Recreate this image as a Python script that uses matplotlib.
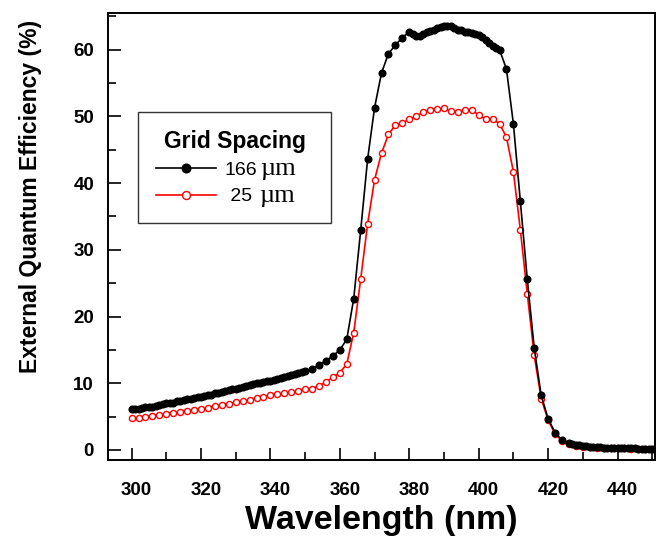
import matplotlib.pyplot as plt
import matplotlib.transforms as mtransforms
from matplotlib.ticker import MultipleLocator

plt.rcParams['font.family'] = ['Liberation Sans', 'DejaVu Sans']

# 166 um grid spacing (filled black)
wl_166 = list(range(300, 351)) + list(range(352, 380, 2)) + list(range(380, 407)) \
    + list(range(408, 427, 2)) + list(range(427, 451))
eqe_166 = [6.1, 6.2, 6.2, 6.3, 6.4, 6.5, 6.5, 6.6, 6.7, 6.9,
           7.0, 7.0, 7.1, 7.3, 7.4, 7.5, 7.6, 7.7, 7.8, 7.9,
           8.0, 8.1, 8.2, 8.3, 8.5, 8.6, 8.7, 8.8, 9.0, 9.1,
           9.2, 9.3, 9.5, 9.6, 9.8, 9.9, 10.0, 10.0, 10.2, 10.3,
           10.4, 10.5, 10.6, 10.8, 10.9, 11.1, 11.2, 11.4, 11.5, 11.7,
           11.8,
           12.2, 12.7, 13.4, 14.1, 15.0, 16.6, 22.7, 32.9, 43.6, 51.3,
           56.5, 59.4, 60.7, 61.8,
           62.7, 62.3, 62.0, 62.1, 62.3, 62.6, 62.8, 63.0, 63.3, 63.4,
           63.5, 63.6, 63.5, 63.2, 63.0, 62.9, 62.7, 62.6, 62.5, 62.4,
           62.2, 61.9, 61.5, 61.0, 60.5, 60.2, 60.0,
           57.1, 48.9, 37.3, 25.6, 15.3, 8.2, 4.7, 2.6, 1.5, 1.0,
           0.9, 0.8, 0.7, 0.6, 0.55, 0.5, 0.45, 0.4, 0.4, 0.35,
           0.35, 0.3, 0.3, 0.3, 0.3, 0.25, 0.25, 0.25, 0.25, 0.2,
           0.2, 0.2, 0.2, 0.2]

# 25 um grid spacing (open red)
wl_25 = list(range(300, 451, 2))
eqe_25 = [4.75, 4.85, 5.0, 5.15, 5.3, 5.45, 5.6, 5.7, 5.85, 6.05,
          6.2, 6.35, 6.55, 6.75, 6.95, 7.15, 7.35, 7.55, 7.75, 7.95,
          8.2, 8.35, 8.5, 8.65, 8.85, 9.1, 9.2, 9.6, 10.2, 10.9,
          11.6, 12.9, 17.6, 25.6, 33.9, 40.5, 44.5, 47.3, 48.7, 49.0,
          49.6, 50.0, 50.6, 51.0, 51.1, 51.2, 50.8, 50.7, 50.9, 51.0,
          50.2, 49.6, 49.6, 48.9, 46.9, 41.7, 33.0, 23.4, 14.2, 7.7,
          4.5, 2.4, 1.4, 0.9, 0.6, 0.45, 0.4, 0.35, 0.3, 0.3,
          0.25, 0.25, 0.2, 0.2, 0.2, 0.2]

legend_labels = ['166', ' 25']
unit = '\u00b5m'

fig = plt.figure(figsize=(6.58, 5.45), dpi=100)
ax = fig.add_axes([108 / 658, 85 / 545, 547 / 658, 447 / 545])

l25, = ax.plot(wl_25, eqe_25, color='red', lw=1.2, marker='o', ms=4.4,
               mfc='white', mec='red', mew=1.0, zorder=2)
l166, = ax.plot(wl_166, eqe_166, color='black', lw=1.2, marker='o', ms=4.8,
                mfc='black', mec='black', zorder=3)

ax.set_xlim(293.2, 450.8)
ax.set_ylim(-1.5, 65.5)
ax.xaxis.set_major_locator(MultipleLocator(20))
ax.xaxis.set_minor_locator(MultipleLocator(10))
ax.yaxis.set_major_locator(MultipleLocator(10))
ax.yaxis.set_minor_locator(MultipleLocator(5))
ax.tick_params(axis='x', which='both', direction='in', top=False, pad=16,
               labelsize=13.5)
ax.tick_params(axis='y', which='both', direction='in', right=False, pad=10,
               labelsize=13.5)
ax.tick_params(which='major', length=9, width=1.2)
ax.tick_params(which='minor', length=6, width=1.2)
shift = mtransforms.ScaledTranslation(0.05, 0, fig.dpi_scale_trans)
for lab in ax.get_xticklabels():
    lab.set_fontweight('bold')
    lab.set_transform(lab.get_transform() + shift)
for lab in ax.get_yticklabels():
    lab.set_fontweight('bold')
for sp in ax.spines.values():
    sp.set_linewidth(1.4)

ax.set_xlabel('Wavelength (nm)', fontsize=24.5, fontweight='bold')
ax.xaxis.set_label_coords(0.5, -0.1)
ax.set_ylabel('External Quantum Efficiency (%)', fontsize=16.5, fontweight='bold')
ax.yaxis.set_label_coords(-0.12, 0.59)

# legend box spans the width measured on the reference; units added after
leg = ax.legend([l166, l25], legend_labels, title='Grid Spacing',
                loc='upper left', bbox_to_anchor=(0.055, 0.5, 0.353, 0.278),
                mode='expand', borderaxespad=0, fontsize=14,
                markerscale=1.3, handlelength=3.1, handletextpad=0.45,
                borderpad=0.9, labelspacing=0.45, fancybox=False,
                edgecolor='#333333', framealpha=1)
leg.get_title().set_fontweight('bold')
leg.get_title().set_fontsize(16.5)
leg.get_frame().set_linewidth(1.0)

for txt, gap in zip(leg.get_texts(), [2, 5]):
    ax.annotate(unit, xy=(1, 0), xycoords=txt, xytext=(gap, -1.0),
                textcoords='offset points', va='bottom', ha='left',
                fontsize=19, family='Liberation Serif', zorder=6)

fig.savefig('out.png', dpi=100)
